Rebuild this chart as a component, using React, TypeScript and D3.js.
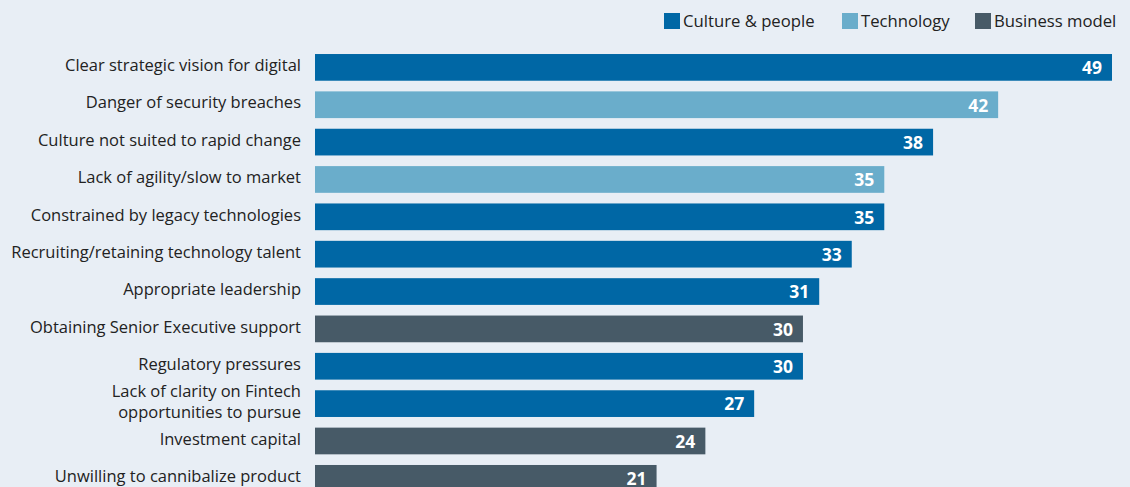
import React from "react";
import * as d3 from "d3";

const categories: string[] = [
  "Clear strategic vision for digital",
  "Danger of security breaches",
  "Culture not suited to rapid  change",
  "Lack of agility/slow to market",
  "Constrained by legacy technologies",
  "Recruiting/retaining technology talent",
  "Appropriate leadership",
  "Obtaining Senior Executive support",
  "Regulatory pressures",
  "Lack of clarity on Fintech\nopportunities to pursue",
  "Investment capital",
  "Unwilling to cannibalize product",
];
const values: number[] = [49, 42, 38, 35, 35, 33, 31, 30, 30, 27, 24, 21];
const groups: string[] = [
  "Culture & people",
  "Technology",
  "Culture & people",
  "Technology",
  "Culture & people",
  "Culture & people",
  "Culture & people",
  "Business model",
  "Culture & people",
  "Culture & people",
  "Business model",
  "Business model",
];
const legendItems: string[] = ["Culture & people", "Technology", "Business model"];
const groupColors: string[] = ["#0067a5", "#6aadcb", "#475a67"];

const W = 1130;
const H = 487;
const FONT = "'Open Sans', 'DejaVu Sans', sans-serif";

export default function App() {
  const x = d3.scaleLinear().domain([0, 49]).range([315, 1112]);
  const y = d3
    .scaleBand<string>()
    .domain(categories)
    .range([48.7, 48.7 + 12 * 37.36])
    .paddingInner(0.285)
    .paddingOuter(0.1425);
  const color = d3.scaleOrdinal<string, string>().domain(legendItems).range(groupColors);

  const legendX = [664, 842, 975];
  const lineGap = 21;

  return (
    <div style={{ position: "absolute", left: 0, top: 0, width: W, height: H }}>
      <svg width={W} height={H} style={{ display: "block", background: "#e8eef5" }}>
        <rect x={0} y={0} width={W} height={H} fill="#e8eef5" />
        {legendItems.map((g, i) => (
          <g key={g}>
            <rect x={legendX[i]} y={13} width={16} height={16} fill={color(g)} />
            <text
              x={legendX[i] + 19}
              y={26.7}
              fontFamily={FONT}
              fontSize={16.7}
              fill="#222"
            >
              {g}
            </text>
          </g>
        ))}
        {categories.map((c, i) => {
          const y0 = y(c)!;
          const bh = y.bandwidth();
          const cy = y0 + bh / 2;
          const lines = c.split("\n");
          const base = cy + 3.7 - ((lines.length - 1) * lineGap) / 2;
          return (
            <g key={c}>
              <rect x={x(0)} y={y0} width={x(values[i]) - x(0)} height={bh} fill={color(groups[i])} />
              {lines.map((l, j) => (
                <text
                  key={j}
                  x={301}
                  y={base + j * lineGap}
                  textAnchor="end"
                  fontFamily={FONT}
                  fontSize={16.5}
                  fill="#222"
                >
                  {l}
                </text>
              ))}
              <text
                x={x(values[i]) - 10}
                y={cy + 6.8}
                textAnchor="end"
                fontFamily={FONT}
                fontWeight="bold"
                fontSize={17.5}
                fill="#ffffff"
              >
                {values[i]}
              </text>
            </g>
          );
        })}
      </svg>
    </div>
  );
}
